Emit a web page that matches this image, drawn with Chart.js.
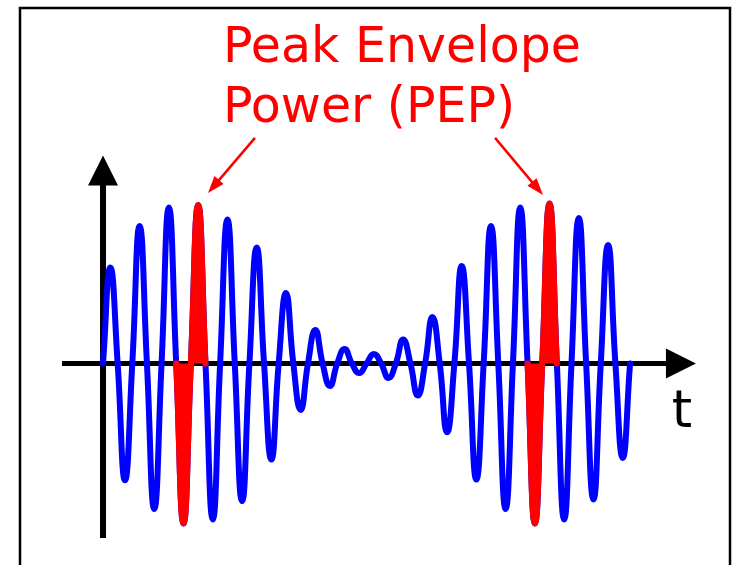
<html>

<head>
    <title>Peak Envelope Power</title>
    <script src="https://cdn.jsdelivr.net/npm/chart.js@4.4.0/dist/chart.umd.min.js"></script>
    <style>
        body { margin: 0; overflow: hidden; background: #fff; }
    </style>
</head>

<body>
    <canvas id="pep" width="734" height="565"></canvas>
    <script>
        // time in half cycles: zero crossings on whole numbers, peaks on the halves
        const waveT = [0, 0.5, 1, 1.5, 2, 2.5, 3, 3.5, 4, 4.5, 5, 5.5, 6, 6.5, 7, 7.5, 8, 8.5, 9, 9.5,
            10, 10.5, 11, 11.5, 12, 12.5, 13, 13.5, 14, 14.5, 15, 15.5, 16, 16.5, 17, 17.5, 18, 18.5, 19, 19.5,
            20, 20.5, 21, 21.5, 22, 22.5, 23, 23.5, 24, 24.5, 25, 25.5, 26, 26.5, 27, 27.5, 28, 28.5, 29, 29.5,
            30, 30.5, 31, 31.5, 32, 32.5, 33, 33.5, 34, 34.5, 35, 35.5, 36];
        const waveAmp = [0, 0.60, 0, -0.73, 0, 0.86, 0, -0.91, 0, 0.975, 0, -1.0, 0, 0.99, 0, -0.975, 0, 0.90, 0, -0.86,
            0, 0.725, 0, -0.60, 0, 0.44, 0, -0.29, 0, 0.21, 0, -0.14, 0, 0.09, 0, -0.06, 0, 0.06, 0, -0.09,
            0, 0.15, 0, -0.20, 0, 0.29, 0, -0.43, 0, 0.61, 0, -0.725, 0, 0.86, 0, -0.91, 0, 0.975, 0, -1.0,
            0, 1.0, 0, -0.975, 0, 0.91, 0, -0.85, 0, 0.74, 0, -0.59, 0];

        // the two highlighted cycles (PEP)
        const pepT1 = [5, 5.5, 6, 6.5, 7];
        const pepAmp1 = [0, -1.0, 0, 0.99, 0];
        const pepT2 = [29, 29.5, 30, 30.5, 31];
        const pepAmp2 = [0, -1.0, 0, 1.0, 0];

        // axis extents (t, amplitude)
        const axisT = [-2.8, 40.5];
        const axisAmp = [-1.09, 1.30];

        // labels: title lines and the arrows pointing at the peaks
        const titleLines = ['Peak Envelope', 'Power (PEP)'];
        const titleT = 8.2;
        const titleAmp = [1.884, 1.51];
        const arrowFromT = [10.38, 26.78];
        const arrowFromAmp = [1.41, 1.41];
        const arrowToT = [7.17, 30.05];
        const arrowToAmp = [1.066, 1.053];
        const axisLabel = 't';
        const axisLabelT = 39.55;
        const axisLabelAmp = -0.397;

        function pts(xs, ys) {
            return xs.map((v, i) => ({ x: v, y: ys[i] }));
        }

        const pepArt = {
            id: 'pepArt',
            beforeDatasetsDraw(chart) {
                const ctx = chart.ctx, sx = chart.scales.x, sy = chart.scales.y;
                ctx.save();
                // frame
                ctx.strokeStyle = '#000';
                ctx.lineWidth = 2.5;
                ctx.strokeRect(20, 8, 710, 620);

                const x0 = sx.getPixelForValue(0), y0 = sy.getPixelForValue(0);
                // horizontal axis
                const xl = sx.getPixelForValue(axisT[0]), xr = sx.getPixelForValue(axisT[1]);
                ctx.lineWidth = 5;
                ctx.beginPath();
                ctx.moveTo(xl, y0);
                ctx.lineTo(xr - 28, y0);
                ctx.stroke();
                ctx.fillStyle = '#000';
                ctx.beginPath();
                ctx.moveTo(xr, y0);
                ctx.lineTo(xr - 30, y0 - 15);
                ctx.lineTo(xr - 30, y0 + 15);
                ctx.closePath();
                ctx.fill();
                // vertical axis
                const yb = sy.getPixelForValue(axisAmp[0]), yt = sy.getPixelForValue(axisAmp[1]);
                ctx.lineWidth = 6;
                ctx.beginPath();
                ctx.moveTo(x0, yb);
                ctx.lineTo(x0, yt + 28);
                ctx.stroke();
                ctx.beginPath();
                ctx.moveTo(x0, yt);
                ctx.lineTo(x0 - 15, yt + 30);
                ctx.lineTo(x0 + 15, yt + 30);
                ctx.closePath();
                ctx.fill();
                ctx.restore();
            },
            afterDatasetsDraw(chart) {
                const ctx = chart.ctx, sx = chart.scales.x, sy = chart.scales.y;
                ctx.save();
                ctx.fillStyle = '#ff0000';
                ctx.strokeStyle = '#ff0000';
                ctx.font = '49px "DejaVu Sans"';
                ctx.textBaseline = 'alphabetic';
                titleLines.forEach((s, i) => {
                    ctx.fillText(s, sx.getPixelForValue(titleT), sy.getPixelForValue(titleAmp[i]));
                });
                // arrows
                ctx.lineWidth = 2.5;
                arrowFromT.forEach((t, i) => {
                    const ax = sx.getPixelForValue(t), ay = sy.getPixelForValue(arrowFromAmp[i]);
                    const bx = sx.getPixelForValue(arrowToT[i]), by = sy.getPixelForValue(arrowToAmp[i]);
                    const ang = Math.atan2(by - ay, bx - ax);
                    ctx.beginPath();
                    ctx.moveTo(ax, ay);
                    ctx.lineTo(bx - 10 * Math.cos(ang), by - 10 * Math.sin(ang));
                    ctx.stroke();
                    ctx.beginPath();
                    ctx.moveTo(bx, by);
                    ctx.lineTo(bx - 17 * Math.cos(ang) + 6 * Math.sin(ang), by - 17 * Math.sin(ang) - 6 * Math.cos(ang));
                    ctx.lineTo(bx - 17 * Math.cos(ang) - 6 * Math.sin(ang), by - 17 * Math.sin(ang) + 6 * Math.cos(ang));
                    ctx.closePath();
                    ctx.fill();
                });
                // axis label
                ctx.fillStyle = '#000';
                ctx.textAlign = 'center';
                ctx.font = '52px "DejaVu Sans"';
                ctx.fillText(axisLabel, sx.getPixelForValue(axisLabelT), sy.getPixelForValue(axisLabelAmp));
                ctx.restore();
            }
        };

        // bezier smoothing through zero crossings and peaks gives sine-like lobes
        const curve = {
            type: 'line',
            pointRadius: 0,
            tension: 0.5,
            borderCapStyle: 'round',
            borderJoinStyle: 'round'
        };

        new Chart(document.getElementById('pep').getContext('2d'), {
            type: 'line',
            data: {
                datasets: [
                    Object.assign({}, curve, {
                        label: 'PEP 1', data: pts(pepT1, pepAmp1),
                        borderColor: '#ff0000', backgroundColor: '#ff0000', borderWidth: 6, fill: 'origin'
                    }),
                    Object.assign({}, curve, {
                        label: 'PEP 2', data: pts(pepT2, pepAmp2),
                        borderColor: '#ff0000', backgroundColor: '#ff0000', borderWidth: 6, fill: 'origin'
                    }),
                    Object.assign({}, curve, {
                        label: 'signal', data: pts(waveT, waveAmp),
                        borderColor: '#0000ff', borderWidth: 6, fill: false
                    })
                ]
            },
            options: {
                responsive: false,
                animation: false,
                layout: { padding: 0 },
                clip: false,
                plugins: {
                    legend: { display: false },
                    tooltip: { enabled: false },
                    title: { display: false }
                },
                scales: {
                    x: { type: 'linear', display: false, min: -7.036, max: 43.10 },
                    y: { type: 'linear', display: false, min: -1.2594, max: 2.2719 }
                }
            },
            plugins: [pepArt]
        });
    </script>
</body>

</html>
